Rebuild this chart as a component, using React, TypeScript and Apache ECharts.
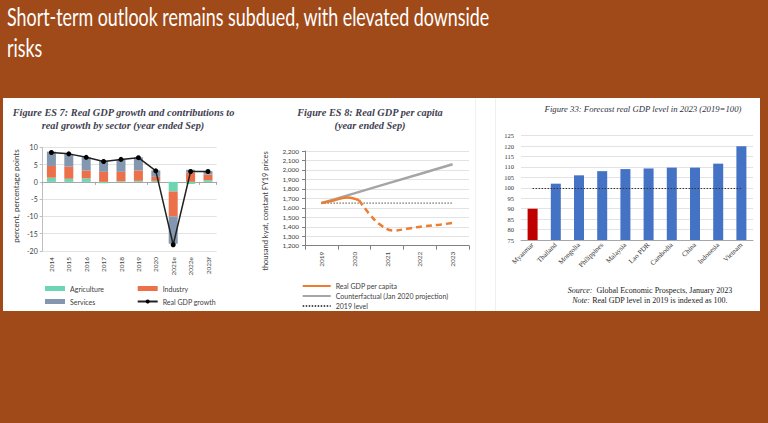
import React, { useEffect, useRef } from "react";
import * as echarts from "echarts";

const slideTitle1 = "Short-term outlook remains subdued, with elevated downside";
const slideTitle2 = "risks";

const es7Years = ["2014", "2015", "2016", "2017", "2018", "2019", "2020", "2021e", "2022e", "2023f"];
const es7Agriculture = [1.2, 0.9, 1.0, -0.4, 0.2, 0.3, 0.3, -2.8, -0.6, 0.5];
const es7Industry = [3.4, 3.5, 2.3, 2.9, 2.7, 3.0, 1.15, -7.2, 2.7, 1.6];
const es7Services = [4.15, 3.7, 3.8, 3.25, 3.6, 3.8, 1.85, -7.9, 0.8, 1.0];
const es7Growth = [8.5, 8.1, 7.1, 5.9, 6.5, 7.0, 3.2, -18.2, 3.0, 3.0];

const es8Years = ["2019", "2020", "2021", "2022", "2023"];
const es8Counterfactual = [1650, 1752, 1855, 1957, 2060];
const es8Level2019 = [1650, 1650, 1650, 1650, 1650];
const es8RealActual = [[2019, 1650], [2019.4, 1680], [2019.8, 1710], [2020.15, 1680]];
const es8RealProjected = [
  [2020.15, 1680], [2020.45, 1540], [2020.8, 1420], [2021.2, 1360],
  [2021.6, 1378], [2022.1, 1405], [2022.6, 1422], [2023, 1440],
];

const f33Countries = ["Myanmar", "Thailand", "Mongolia", "Philippines", "Malaysia", "Lao PDR", "Cambodia", "China", "Indonesia", "Vietnam"];
const f33Values = [90, 102, 106, 108, 109, 109.3, 109.7, 109.7, 111.6, 120];

const SANS = "Lato";
const SERIF = "Liberation Serif";
const TXT = "#404040";
const TITLE = "#3f3f52";

export default function App() {
  const ref = useRef<HTMLDivElement>(null);
  useEffect(() => {
    if (!ref.current) return;
    const chart = echarts.init(ref.current, undefined, { renderer: "svg" });
    const titleText = (text: string, x: number, y: number, size: number, bold: boolean, fill: string = TITLE) => ({
      type: "text",
      x,
      y,
      style: {
        text,
        fill,
        fontFamily: SERIF,
        fontSize: size,
        fontStyle: "italic",
        fontWeight: bold ? "bold" : "normal",
        textAlign: "center",
        textVerticalAlign: "middle",
      },
    });
    const option: any = {
      animation: false,
      graphic: [
        {
          type: "text", x: 7, y: 17, scaleX: 0.715,
          style: { text: slideTitle1, fill: "#ffffff", fontFamily: SANS, fontSize: 25, textVerticalAlign: "middle" },
        },
        {
          type: "text", x: 7, y: 48, scaleX: 0.715,
          style: { text: slideTitle2, fill: "#ffffff", fontFamily: SANS, fontSize: 25, textVerticalAlign: "middle" },
        },
        titleText("Figure ES 7: Real GDP growth and contributions to", 123.5, 112.7, 10.3, true),
        titleText("real growth by sector (year ended Sep)", 123, 125, 10.3, true),
        titleText("Figure ES 8: Real GDP per capita", 370, 112.7, 10.3, true),
        titleText("(year ended Sep)", 370, 125, 10.3, true),
        titleText("Figure 33: Forecast real GDP level in 2023 (2019=100)", 643, 109, 8.7, false, "#2f2f3f"),
        {
          type: "text", x: 16, y: 196, rotation: Math.PI / 2,
          style: { text: "percent, percentage points", fill: TXT, fontFamily: SANS, fontSize: 8, textAlign: "center", textVerticalAlign: "middle" },
        },
        {
          type: "text", x: 265, y: 211, rotation: Math.PI / 2,
          style: { text: "thousand kyat, constant FY19 prices", fill: TXT, fontFamily: SANS, fontSize: 7.5, textAlign: "center", textVerticalAlign: "middle" },
        },
        {
          type: "text", x: 650, y: 290,
          style: {
            text: "{i|Source:}  Global Economic Prospects, January 2023",
            rich: { i: { fontStyle: "italic", fontFamily: SERIF, fontSize: 8, fill: "#222" } },
            fill: "#222", fontFamily: SERIF, fontSize: 8, textAlign: "center", textVerticalAlign: "middle",
          },
        },
        {
          type: "text", x: 650, y: 300.7,
          style: {
            text: "{i|Note:} Real GDP level in 2019 is indexed as 100.",
            rich: { i: { fontStyle: "italic", fontFamily: SERIF, fontSize: 8, fill: "#222" } },
            fill: "#222", fontFamily: SERIF, fontSize: 8, textAlign: "center", textVerticalAlign: "middle",
          },
        },
      ],
      grid: [
        { left: 42.7, top: 147.3, width: 174, height: 103.7 },
        { left: 305, top: 151, width: 164, height: 94.7 },
        { left: 521, top: 135.7, width: 232, height: 104.3 },
      ],
      legend: [
        {
          data: [{ name: "Agriculture", icon: "rect" }, { name: "Services", icon: "rect" }],
          orient: "vertical", left: 40, top: 279.5, itemWidth: 20, itemHeight: 5, itemGap: 5,
          textStyle: { fontSize: 7, fontFamily: SANS, color: TXT, lineHeight: 8 },
        },
        {
          data: [{ name: "Industry", icon: "rect" }, "Real GDP growth"],
          orient: "vertical", left: 131.7, top: 279.5, itemWidth: 20, itemHeight: 5, itemGap: 5,
          textStyle: { fontSize: 7, fontFamily: SANS, color: TXT, lineHeight: 8 },
        },
        {
          data: ["Real GDP per capita", "Counterfactual (Jan 2020 projection)", "2019 level"],
          orient: "vertical", left: 296.7, top: 277, itemWidth: 28, itemHeight: 7, itemGap: 2,
          itemStyle: { opacity: 0 },
          textStyle: { fontSize: 7, fontFamily: SANS, color: TXT, lineHeight: 8 },
        },
      ],
      xAxis: [
        {
          type: "category", gridIndex: 0, data: es7Years, position: "bottom",
          axisLine: { show: false, onZero: false }, axisTick: { show: false },
          axisLabel: { rotate: 90, fontSize: 6.5, fontFamily: SANS, color: TXT, margin: 6, interval: 0 },
        },
        {
          type: "category", gridIndex: 0, data: es7Years, position: "bottom",
          axisLine: { show: true, onZero: true, lineStyle: { color: "#A6A6A6" } },
          axisTick: { show: true, length: 3, lineStyle: { color: "#A6A6A6" } },
          axisLabel: { show: false },
        },
        {
          type: "category", gridIndex: 1, data: es8Years, position: "bottom",
          axisLine: { show: true, lineStyle: { color: "#808080" } },
          axisTick: { show: true, length: 4, interval: 0, lineStyle: { color: "#808080" } },
          axisLabel: { rotate: 90, fontSize: 6.5, fontFamily: SANS, color: TXT, margin: 6, interval: 0 },
        },
        { type: "value", gridIndex: 1, min: 2018.5, max: 2023.5, show: false },
        {
          type: "category", gridIndex: 2, data: f33Countries, position: "bottom",
          axisLine: { show: true, lineStyle: { color: "#A6A6A6" } },
          axisTick: { show: false },
          axisLabel: { rotate: 45, fontSize: 7, fontFamily: SERIF, color: "#333", margin: 4, interval: 0 },
        },
      ],
      yAxis: [
        {
          type: "value", gridIndex: 0, min: -20, max: 10, interval: 5,
          axisLine: { show: true, lineStyle: { color: "#BFBFBF" } },
          axisTick: { show: true, length: 3, lineStyle: { color: "#BFBFBF" } },
          splitLine: { lineStyle: { color: "#E3E3E3" } },
          axisLabel: { fontSize: 7, fontFamily: SANS, color: TXT, margin: 5 },
        },
        {
          type: "value", gridIndex: 1, min: 1200, max: 2200, interval: 100,
          axisLine: { show: true, lineStyle: { color: "#808080" } },
          axisTick: { show: true, length: 3, lineStyle: { color: "#808080" } },
          splitLine: { lineStyle: { color: "#E3E3E3" } },
          axisLabel: { fontSize: 6.5, fontFamily: SANS, color: TXT, margin: 6, formatter: (v: number) => v.toLocaleString("en-US") },
        },
        {
          type: "value", gridIndex: 2, min: 75, max: 125, interval: 5,
          axisLine: { show: false }, axisTick: { show: false },
          splitLine: { lineStyle: { color: "#E3E3E3" } },
          axisLabel: { fontSize: 6.5, fontFamily: SERIF, color: "#333", margin: 7 },
        },
      ],
      series: [
        { name: "Agriculture", type: "bar", xAxisIndex: 0, yAxisIndex: 0, stack: "es7", barWidth: 9, data: es7Agriculture, itemStyle: { color: "#6CD6B3" } },
        { name: "Industry", type: "bar", xAxisIndex: 0, yAxisIndex: 0, stack: "es7", barWidth: 9, data: es7Industry, itemStyle: { color: "#EC7049" } },
        { name: "Services", type: "bar", xAxisIndex: 0, yAxisIndex: 0, stack: "es7", barWidth: 9, data: es7Services, itemStyle: { color: "#8497B0" } },
        {
          name: "Real GDP growth", type: "line", xAxisIndex: 0, yAxisIndex: 0, data: es7Growth, z: 5,
          symbol: "circle", symbolSize: 5, itemStyle: { color: "#000" }, lineStyle: { color: "#222", width: 1.5 },
        },
        {
          name: "Counterfactual (Jan 2020 projection)", type: "line", xAxisIndex: 2, yAxisIndex: 1, data: es8Counterfactual,
          symbol: "none", lineStyle: { color: "#A5A5A5", width: 2.5 }, itemStyle: { color: "#A5A5A5" },
        },
        {
          name: "2019 level", type: "line", xAxisIndex: 2, yAxisIndex: 1, data: es8Level2019,
          symbol: "none", lineStyle: { color: "#505050", width: 1, type: [1.5, 1.5] }, itemStyle: { color: "#505050" },
        },
        {
          name: "Real GDP per capita", type: "line", xAxisIndex: 3, yAxisIndex: 1, data: es8RealActual, smooth: 0.4,
          symbol: "none", lineStyle: { color: "#ED7D31", width: 2.5 }, itemStyle: { color: "#ED7D31" }, z: 4,
        },
        {
          name: "Real GDP per capita (projection)", type: "line", xAxisIndex: 3, yAxisIndex: 1, data: es8RealProjected, smooth: 0.4,
          symbol: "none", lineStyle: { color: "#ED7D31", width: 2.5, type: [6, 4] }, itemStyle: { color: "#ED7D31" }, z: 4,
        },
        {
          name: "Forecast real GDP level", type: "bar", xAxisIndex: 4, yAxisIndex: 2, barWidth: 10,
          data: f33Values.map((v, i) => ({ value: v, itemStyle: { color: i === 0 ? "#C00000" : "#4472C4" } })),
          markLine: {
            silent: true, symbol: "none", label: { show: false },
            lineStyle: { color: "#333", width: 1, type: [1.5, 1.5] },
            data: [[{ coord: [f33Countries[0], 100] }, { coord: [f33Countries[f33Countries.length - 1], 100] }]],
          },
        },
      ],
    };
    chart.setOption(option);
    return () => chart.dispose();
  }, []);

  return (
    <div style={{ position: "fixed", left: 0, top: 0, width: 768, height: 423, background: "#A14A19", overflow: "hidden" }}>
      <div style={{ position: "absolute", left: 3, top: 98, width: 757, height: 213, background: "#ffffff" }} />
      <div style={{ position: "absolute", left: 475, top: 98, width: 1, height: 213, background: "#F0F0F0" }} />
      <div style={{ position: "absolute", left: 495, top: 98, width: 1, height: 213, background: "#F0F0F0" }} />
      <div ref={ref} style={{ position: "absolute", left: 0, top: 0, width: 768, height: 423 }} />
    </div>
  );
}
